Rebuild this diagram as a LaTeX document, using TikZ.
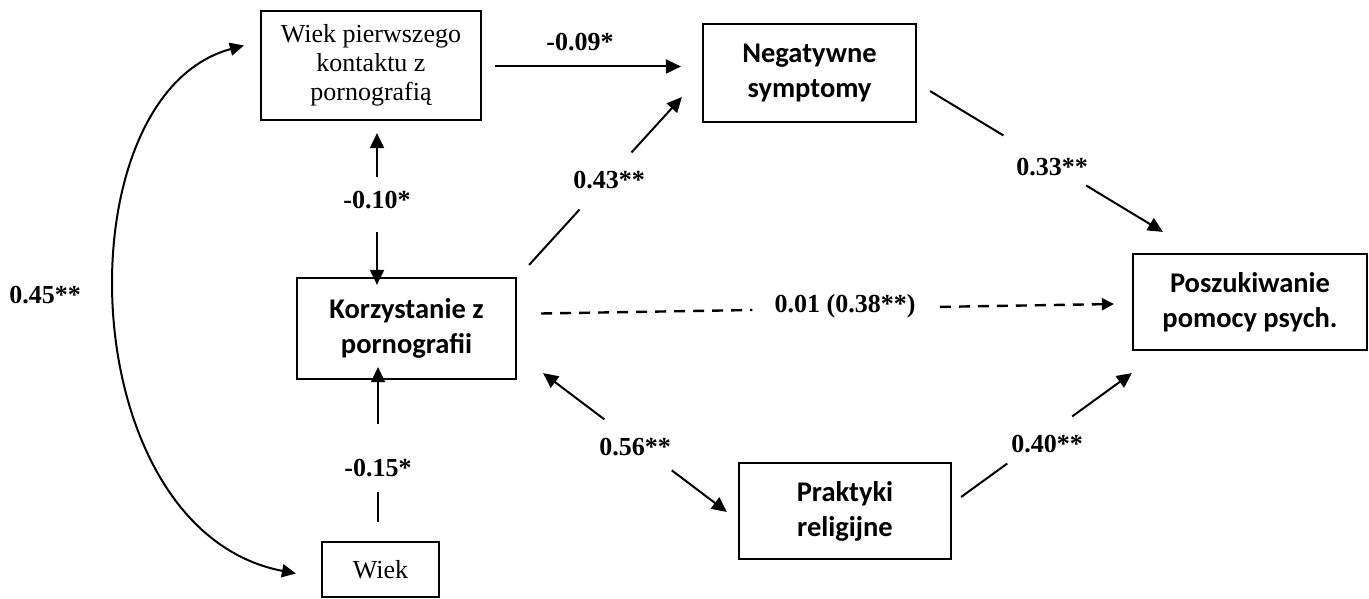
\documentclass[tikz,border=0pt]{standalone}
\usepackage{fontspec}
\setmainfont{Liberation Serif}
\newfontfamily\calfont{Carlito}
\usetikzlibrary{arrows.meta,calc}
\begin{document}
\begin{tikzpicture}[x=1pt,y=-1pt,
  box/.style={draw,line width=2.2pt,inner sep=0pt,align=center},
  sbox/.style={box,font=\calfont\bfseries\fontsize{28.5}{35}\selectfont},
  rbox/.style={box,font=\fontsize{26}{29}\selectfont},
  lab/.style={font=\bfseries\fontsize{26}{30}\selectfont,inner sep=0pt},
  con/.style={line width=2pt},
  tip/.tip={Triangle[length=15pt,width=14pt]},
  arr/.style={con,-tip},
  rarr/.style={con,tip-},
  dline/.style={line width=2.4pt,dash pattern=on 11pt off 8pt},
  darr/.style={dline,-{Triangle[length=12pt,width=12pt]}},
  carr/.style={con,{Triangle[length=14pt,width=13pt]}-{Triangle[length=14pt,width=13pt]}}
]
\useasboundingbox (0,0) rectangle (1369,599);

% boxes
\node[rbox,minimum width=220pt,minimum height=109pt] (wpk) at (371,65.5) {Wiek pierwszego\\kontaktu z\\pornografią};
\node[sbox,minimum width=213pt,minimum height=98pt] (neg) at (809.5,73) {Negatywne\\symptomy};
\node[sbox,minimum width=219pt,minimum height=101pt] (korz) at (406.5,328.5) {Korzystanie z\\pornografii};
\node[rbox,minimum width=117pt,minimum height=55pt] (wiek) at (380.5,569.5) {Wiek};
\node[sbox,minimum width=212pt,minimum height=96pt] (prak) at (845,511) {Praktyki\\religijne};
\node[sbox,minimum width=234pt,minimum height=96pt] (pos) at (1250,302) {Poszukiwanie\\pomocy psych.};

% connector end points (relative to nodes)
\coordinate (a1) at ([shift={(13,1)}]wpk.east);
\coordinate (a2) at ([xshift=-21]neg.west |- a1);
\coordinate (b1) at ([shift={(12,-12)}]korz.north east);
\coordinate (b2) at ([shift={(-20,-26)}]neg.south west);
\coordinate (c1) at ([shift={(13,-32)}]neg.south east);
\coordinate (c2) at ([shift={(31,-21)}]pos.north west);
\coordinate (d1) at ([shift={(24,-15)}]korz.east);
\coordinate (d2) at ([shift={(-18,2)}]pos.west);
\coordinate (e1) at ([shift={(26,-7)}]korz.south east);
\coordinate (e2) at ([shift={(-11,1)}]prak.west);
\coordinate (f1) at ([shift={(9,-14)}]prak.east);
\coordinate (f2) at ([shift={(0,22)}]pos.south west);
\coordinate (g1) at ([shift={(6,12)}]wpk.south);
\coordinate (g2) at ([yshift=-8]korz.north -| g1);
\coordinate (h1) at ([shift={(-2.5,-19)}]wiek.north);
\coordinate (h2) at ([yshift=13]korz.south -| h1);
\coordinate (i1) at ([shift={(-16,-20)}]wpk.west);
\coordinate (i2) at ([shift={(-25,4)}]wiek.west);

% wiek pierwszego -> negatywne
\draw[arr] (a1) -- (a2);
\node[lab] (l1) at (580,42) {-0.09*};

% korzystanie -> negatywne
\draw[con] (b1) -- ($(b1)!0.33!(b2)$);
\draw[arr] ($(b1)!0.67!(b2)$) -- (b2);
\node[lab] (l2) at (609,180) {0.43**};

% negatywne -> poszukiwanie
\draw[con] (c1) -- ($(c1)!0.315!(c2)$);
\draw[arr] ($(c1)!0.67!(c2)$) -- (c2);
\node[lab] (l3) at (1052,167) {0.33**};

% korzystanie -> poszukiwanie (dashed)
\draw[dline] (d1) -- ($(d1)!0.369!(d2)$);
\draw[darr] ($(d1)!0.696!(d2)$) -- (d2);
\node[lab] (l4) at (845,306) {0.01 (0.38**)};

% korzystanie <-> praktyki
\draw[rarr] (e1) -- ($(e1)!0.333!(e2)$);
\draw[arr] ($(e1)!0.70!(e2)$) -- (e2);
\node[lab] (l5) at (635,447) {0.56**};

% praktyki -> poszukiwanie
\draw[con] (f1) -- ($(f1)!0.27!(f2)$);
\draw[arr] ($(f1)!0.65!(f2)$) -- (f2);
\node[lab] (l6) at (1047,444) {0.40**};

% wiek pierwszego <-> korzystanie
\draw[rarr] (g1) -- ($(g1)!0.29!(g2)$);
\draw[arr] ($(g1)!0.652!(g2)$) -- (g2);
\node[lab] (l7) at (377,200) {-0.10*};

% wiek -> korzystanie
\draw[con] (h1) -- ($(h1)!0.19!(h2)$);
\draw[arr] ($(h1)!0.634!(h2)$) -- (h2);
\node[lab] (l8) at (378,468) {-0.15*};

% wiek pierwszego <-> wiek (curved)
\draw[carr] (i1) .. controls (60,95) and (70,530) .. (i2);
\node[lab] (l9) at (45,295) {0.45**};
\end{tikzpicture}
\end{document}
